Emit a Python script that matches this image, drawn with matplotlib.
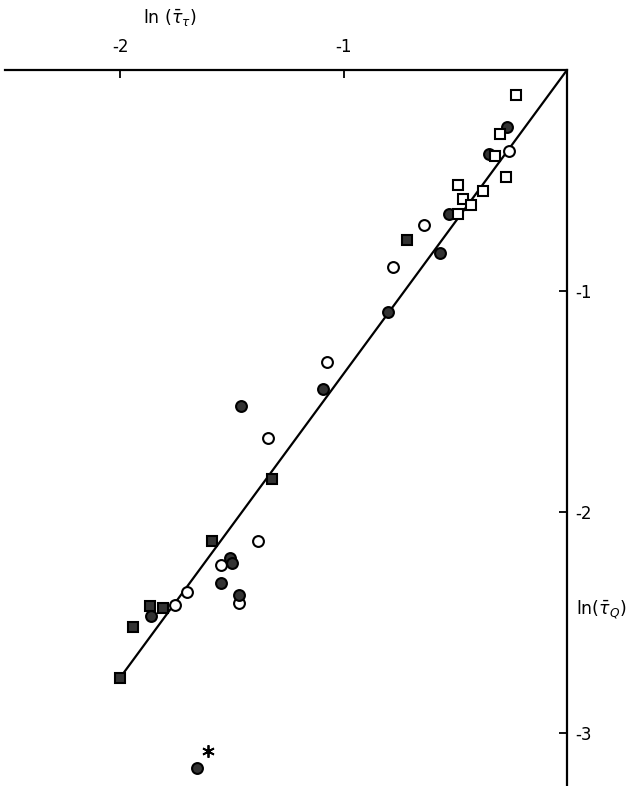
import matplotlib
matplotlib.use('Agg')
import matplotlib.pyplot as plt

# ln(tau_T) vs ln(tau_Q)
open_circle_x = [-0.26, -0.64, -0.78, -1.075, -1.34, -1.384, -1.55, -1.70, -1.47, -1.754]
open_circle_y = [-0.365, -0.70, -0.89, -1.32, -1.667, -2.13, -2.24, -2.36, -2.41, -2.42]

filled_circle_x = [-0.27, -0.348, -0.53, -0.568, -0.80, -1.093, -1.459, -1.51, -1.50,
                   -1.547, -1.466, -1.86, -1.657]
filled_circle_y = [-0.26, -0.38, -0.65, -0.83, -1.095, -1.445, -1.52, -2.21, -2.23,
                   -2.32, -2.375, -2.47, -3.16]

open_square_x = [-0.226, -0.30, -0.32, -0.273, -0.49, -0.377, -0.464, -0.43, -0.486]
open_square_y = [-0.113, -0.29, -0.39, -0.483, -0.52, -0.548, -0.585, -0.61, -0.65]

filled_square_x = [-0.717, -1.32, -1.587, -1.866, -1.806, -1.94, -2.0]
filled_square_y = [-0.77, -1.85, -2.13, -2.425, -2.436, -2.52, -2.75]

star_x = [-1.605]
star_y = [-3.08]

fit_x = [0.0, -2.0]
fit_y = [0.0, -2.75]

x_ticks = [-2, -1]
y_ticks = [-1, -2, -3]

plt.rcParams['font.family'] = ['DejaVu Sans']

fig = plt.figure(figsize=(6.39, 7.86), dpi=100)
ax = fig.add_axes([5 / 639, 0.0, 562 / 639, 716 / 786])
ax.set_xlim(-2.515, 0.0)
ax.set_ylim(-3.24, 0.0)

ax.plot(fit_x, fit_y, color='black', lw=1.6, zorder=2)

ms = 7.8
mew = 1.5
ax.plot(open_circle_x, open_circle_y, 'o', ms=ms, mfc='white', mec='black', mew=mew, zorder=3)
ax.plot(filled_circle_x, filled_circle_y, 'o', ms=ms, mfc='#333333', mec='black', mew=mew, zorder=3)
ax.plot(open_square_x, open_square_y, 's', ms=ms - 0.3, mfc='white', mec='black', mew=mew, zorder=3)
ax.plot(filled_square_x, filled_square_y, 's', ms=ms - 0.3, mfc='#333333', mec='black', mew=mew, zorder=3)
# asterisk marker
ax.plot(star_x, star_y, marker=(6, 2, 0), ms=9, color='black', mew=1.3, ls='none', zorder=3)

for s in ['left', 'bottom']:
    ax.spines[s].set_visible(False)
for s in ['top', 'right']:
    ax.spines[s].set_linewidth(1.6)

ax.xaxis.set_ticks_position('top')
ax.yaxis.set_ticks_position('right')
ax.set_xticks(x_ticks)
ax.set_yticks(y_ticks)
ax.set_xticklabels([str(t) for t in x_ticks])
ax.set_yticklabels([str(t) for t in y_ticks])
ax.tick_params(axis='x', direction='in', length=6, width=1.3, pad=10, labelsize=12)
ax.tick_params(axis='y', direction='in', length=6, width=1.3, pad=6, labelsize=12)

fig.text(170 / 639, 1 - 18 / 786, r'ln ($\bar{\tau}_{\tau}$)', ha='center', va='center', fontsize=12.5)
fig.text(601 / 639, 1 - 610 / 786, r'ln($\bar{\tau}_{Q}$)', ha='center', va='center', fontsize=12.5)

fig.savefig('out.png', dpi=100)
